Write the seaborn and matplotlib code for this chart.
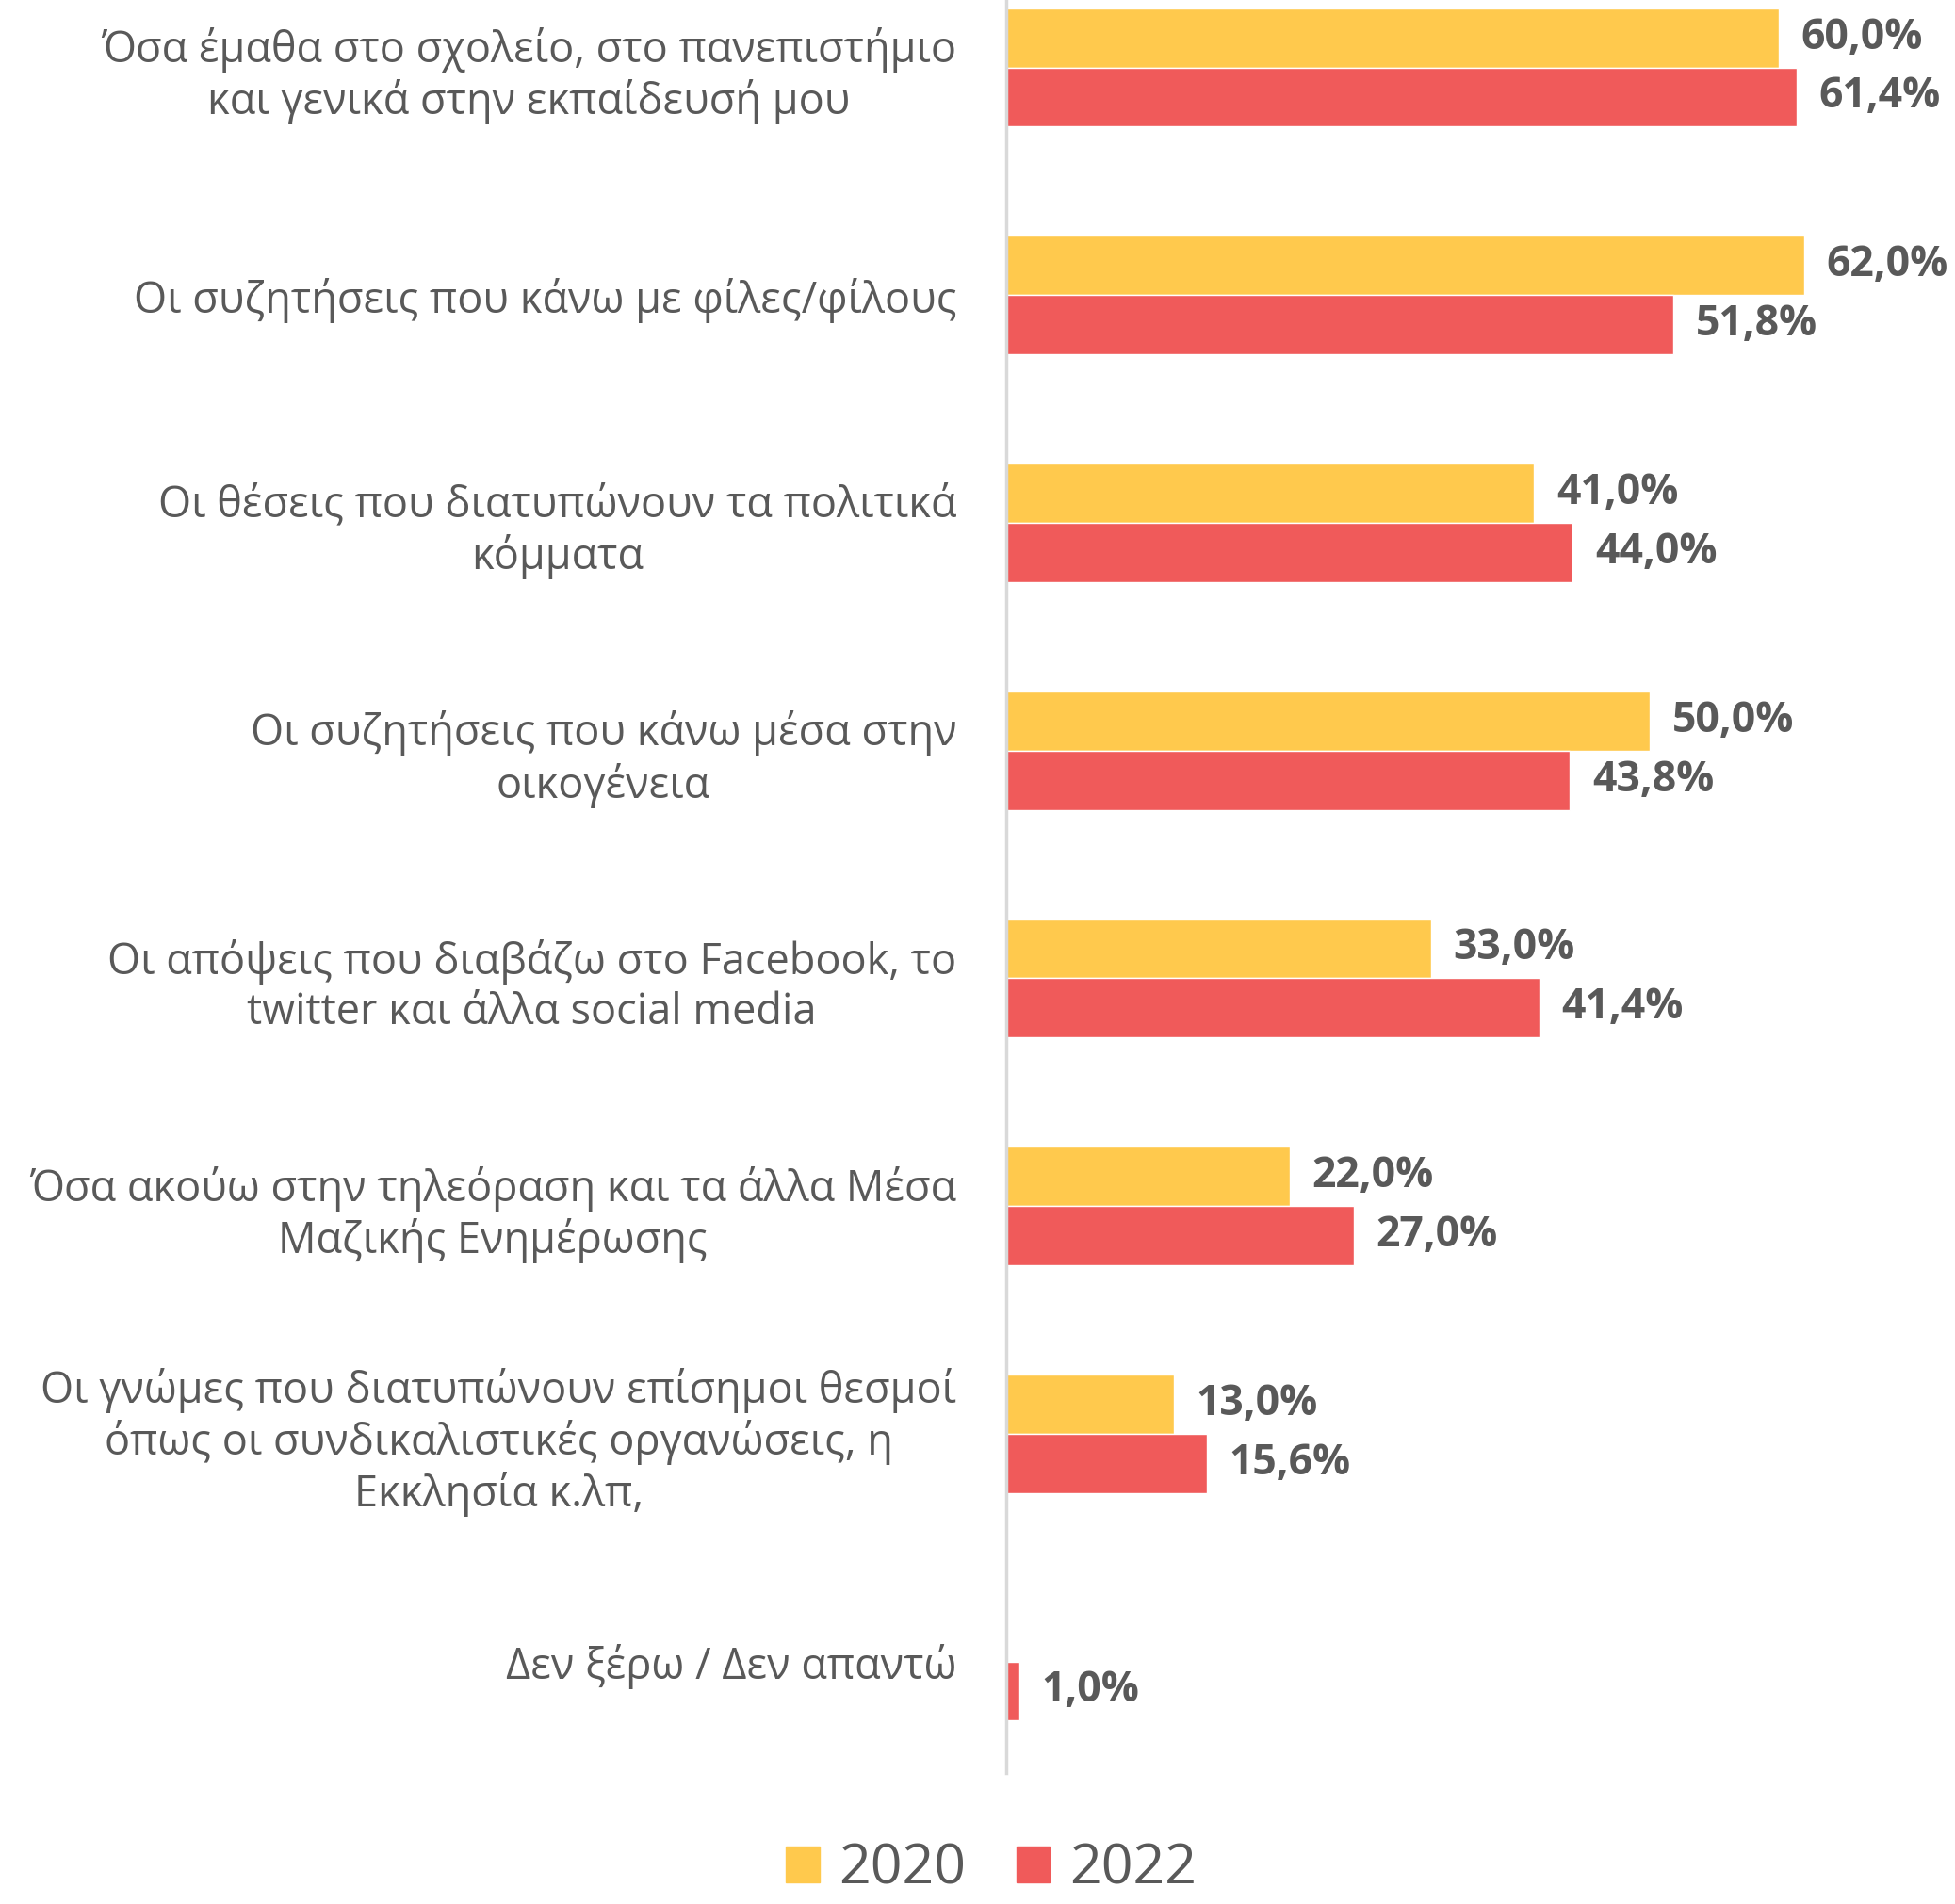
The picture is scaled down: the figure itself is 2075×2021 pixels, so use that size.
import numpy as np
import pandas as pd
import matplotlib.pyplot as plt
import seaborn as sns

categories = [
    "Όσα έμαθα στο σχολείο, στο πανεπιστήμιο\nκαι γενικά στην εκπαίδευσή μου",
    "Οι συζητήσεις που κάνω με φίλες/φίλους",
    "Οι θέσεις που διατυπώνουν τα πολιτικά\nκόμματα",
    "Οι συζητήσεις που κάνω μέσα στην\nοικογένεια",
    "Οι απόψεις που διαβάζω στο Facebook, το\ntwitter και άλλα social media",
    "Όσα ακούω στην τηλεόραση και τα άλλα Μέσα\nΜαζικής Ενημέρωσης",
    "Οι γνώμες που διατυπώνουν επίσημοι θεσμοί\nόπως οι συνδικαλιστικές οργανώσεις, η\nΕκκλησία κ.λπ,",
    "Δεν ξέρω / Δεν απαντώ",
]
years = ["2020", "2022"]
values_2020 = [60.0, 62.0, 41.0, 50.0, 33.0, 22.0, 13.0, np.nan]
values_2022 = [61.4, 51.8, 44.0, 43.8, 41.4, 27.0, 15.6, 1.0]
colors = ["#FFC94D", "#F05A5A"]

df = pd.DataFrame({
    "cat": categories * 2,
    "year": [years[0]] * len(categories) + [years[1]] * len(categories),
    "value": values_2020 + values_2022,
})

sns.set_style("white")
plt.rcParams["font.family"] = ["Open Sans", "DejaVu Sans"]
text_col = "#595959"

fig = plt.figure(figsize=(20.75, 20.21), dpi=100)
ax = fig.add_axes([0.5147, 0.0688, 0.4853, 0.9312])

sns.barplot(data=df, x="value", y="cat", hue="year", orient="h",
            order=categories, hue_order=years, palette=colors,
            width=0.52, saturation=1, ax=ax)

for cont in ax.containers:
    labels = [f"{b.get_width():.1f}".replace(".", ",") + "%" for b in cont]
    ax.bar_label(cont, labels=labels, padding=17, fontsize=32,
                 fontweight="bold", color=text_col)

ax.set_xlim(0, 73.7)
ax.set_ylim(7.49, -0.296)
ax.set_xlabel("")
ax.set_ylabel("")
ax.set_xticks([])
for s in ["top", "right", "bottom"]:
    ax.spines[s].set_visible(False)
ax.spines["left"].set_color("#D9D9D9")
ax.spines["left"].set_linewidth(2.5)
ax.tick_params(axis="y", length=0, pad=38, labelsize=32.5, labelcolor=text_col)
for lab in ax.get_yticklabels():
    lab.set_multialignment("center")
    lab.set_linespacing(1.2)

ax.get_legend().remove()
handles = [plt.Rectangle((0, 0), 1, 1, color=c) for c in colors]
fig.legend(handles, years, loc="center", bbox_to_anchor=(0.507, 0.018),
           ncol=2, frameon=False, fontsize=42.5, labelcolor=text_col,
           handlelength=0.6, handleheight=0.6, handletextpad=0.35,
           columnspacing=0.9)

fig.savefig("out.png", dpi=100, facecolor="white")
